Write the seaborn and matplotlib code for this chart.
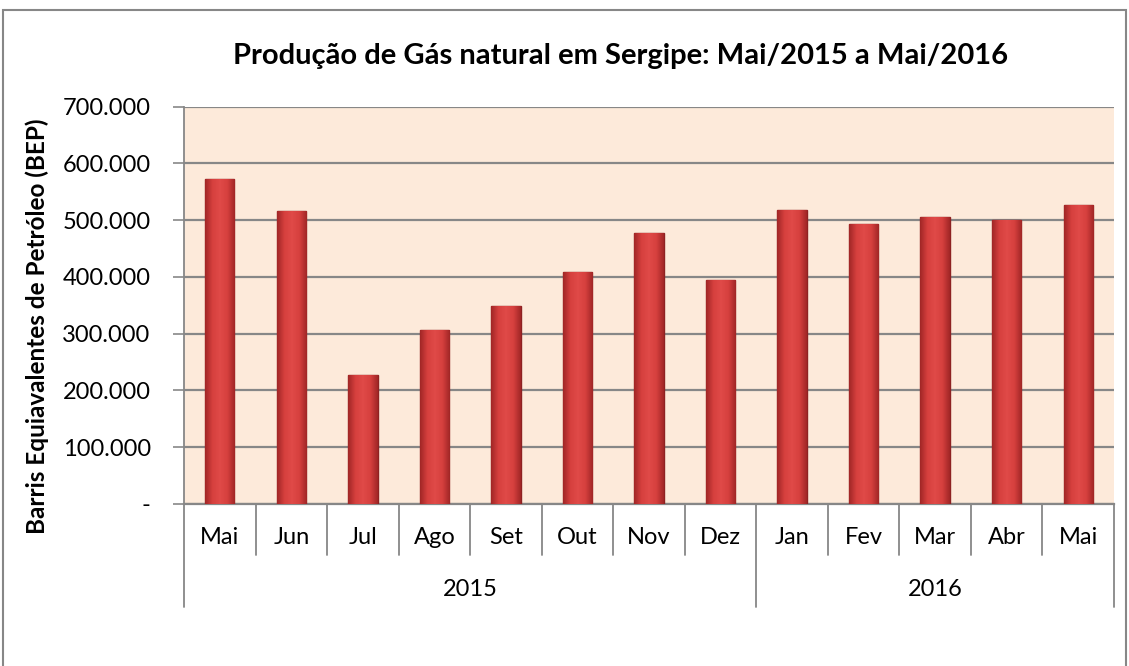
import numpy as np
import pandas as pd
import matplotlib
matplotlib.use("Agg")
import matplotlib.pyplot as plt
import matplotlib.transforms as mtransforms
from matplotlib.colors import LinearSegmentedColormap
import seaborn as sns

# ---- data ----
months = ["Mai", "Jun", "Jul", "Ago", "Set", "Out", "Nov", "Dez",
          "Jan", "Fev", "Mar", "Abr", "Mai"]
years = ["2015"] * 8 + ["2016"] * 5
values = [572000, 517000, 228000, 306000, 348000, 408000, 478000, 395000,
          518000, 494000, 506000, 500000, 526000]
year_labels = ["2015", "2016"]
yticks = [0, 100000, 200000, 300000, 400000, 500000, 600000, 700000]
title = "Produção de Gás natural em Sergipe: Mai/2015 a Mai/2016"
ylabel = "Barris Equiavalentes de Petróleo (BEP)"

df = pd.DataFrame({"key": [f"{m} {y}" for m, y in zip(months, years)],
                   "month": months, "year": years, "value": values})

sns.set_theme(style="white")
plt.rcParams["font.family"] = ["Lato", "DejaVu Sans"]
plt.rcParams["text.color"] = "black"
plt.rcParams["axes.labelcolor"] = "black"

fig = plt.figure(figsize=(11.29, 6.66), dpi=100)
ax = fig.add_axes([184 / 1129, 1 - 504 / 666, (1114 - 184) / 1129, (504 - 106.7) / 666])

sns.barplot(data=df, x="key", y="value", ax=ax, color="#D13B3B", width=0.41,
            edgecolor="#8E2222", linewidth=1.0, zorder=3, saturation=1)

ax.set_facecolor("#FDEADA")
ax.set_ylim(0, 700000)
ax.set_xlim(-0.5, len(months) - 0.5)
ax.set_yticks(yticks)
ax.set_yticklabels(["-" if v == 0 else f"{v:,}".replace(",", ".") for v in yticks],
                   fontsize=17, color="#000000")
ax.yaxis.grid(True, color="#878787", linewidth=1.6, zorder=0)
ax.set_axisbelow(True)
ax.tick_params(axis="y", length=8, width=1.2, color="#878787", direction="out", pad=16, left=True)
ax.set_xticks([])
ax.set_xlabel("")
ax.set_ylabel(ylabel, fontsize=17.5, fontweight="bold", color="black")
ax.yaxis.label.set_va("center")
ax.yaxis.set_label_coords(-0.1575, 0.448)
for s in ["top", "right"]:
    ax.spines[s].set_visible(False)
ax.spines["left"].set_color("#878787")
ax.spines["left"].set_linewidth(1.3)
ax.spines["bottom"].set_color("#878787")
ax.spines["bottom"].set_linewidth(1.6)

# gradient shading on bars
cmap = LinearSegmentedColormap.from_list("bar", ["#A02626", "#D6403E", "#E04A48", "#D6403E", "#A02626"])
grad = np.linspace(0, 1, 256).reshape(1, -1)
for p in list(ax.patches):
    x0, y0 = p.get_x(), p.get_y()
    w, h = p.get_width(), p.get_height()
    im = ax.imshow(grad, extent=[x0, x0 + w, y0, y0 + h], aspect="auto",
                   cmap=cmap, zorder=3.5)
    im.set_clip_path(p)
ax.set_xlim(-0.5, len(months) - 0.5)
ax.set_ylim(0, 700000)

# category axis
trans = mtransforms.blended_transform_factory(ax.transData, ax.transAxes)
px = 1 / (504 - 106.7)
for i, m in enumerate(months):
    ax.text(i, -34 * px, m, transform=trans, ha="center", va="center", fontsize=17)
for i in range(1, len(months)):
    if years[i] != years[i - 1]:
        continue
    ax.plot([i - 0.5, i - 0.5], [0, -51 * px], transform=trans, color="#878787",
            lw=1.3, clip_on=False)
bounds = [-0.5]
for i in range(1, len(months)):
    if years[i] != years[i - 1]:
        bounds.append(i - 0.5)
bounds.append(len(months) - 0.5)
for b in bounds:
    ax.plot([b, b], [0, -103 * px], transform=trans, color="#878787", lw=1.3, clip_on=False)
for k, y in enumerate(year_labels):
    c = (bounds[k] + bounds[k + 1]) / 2
    ax.text(c, -86 * px, y, transform=trans, ha="center", va="center", fontsize=17)

fig.text(621 / 1129, 1 - 56 / 666, title, ha="center", va="center",
         fontsize=21, fontweight="bold", color="black")

# outer border
fig.add_artist(plt.Rectangle((3 / 1129, -0.01), (1126 - 3) / 1129, 1 - 10 / 666 + 0.01,
                             transform=fig.transFigure, fill=False,
                             edgecolor="#878787", linewidth=1.5))

fig.savefig("out.png", dpi=100)
